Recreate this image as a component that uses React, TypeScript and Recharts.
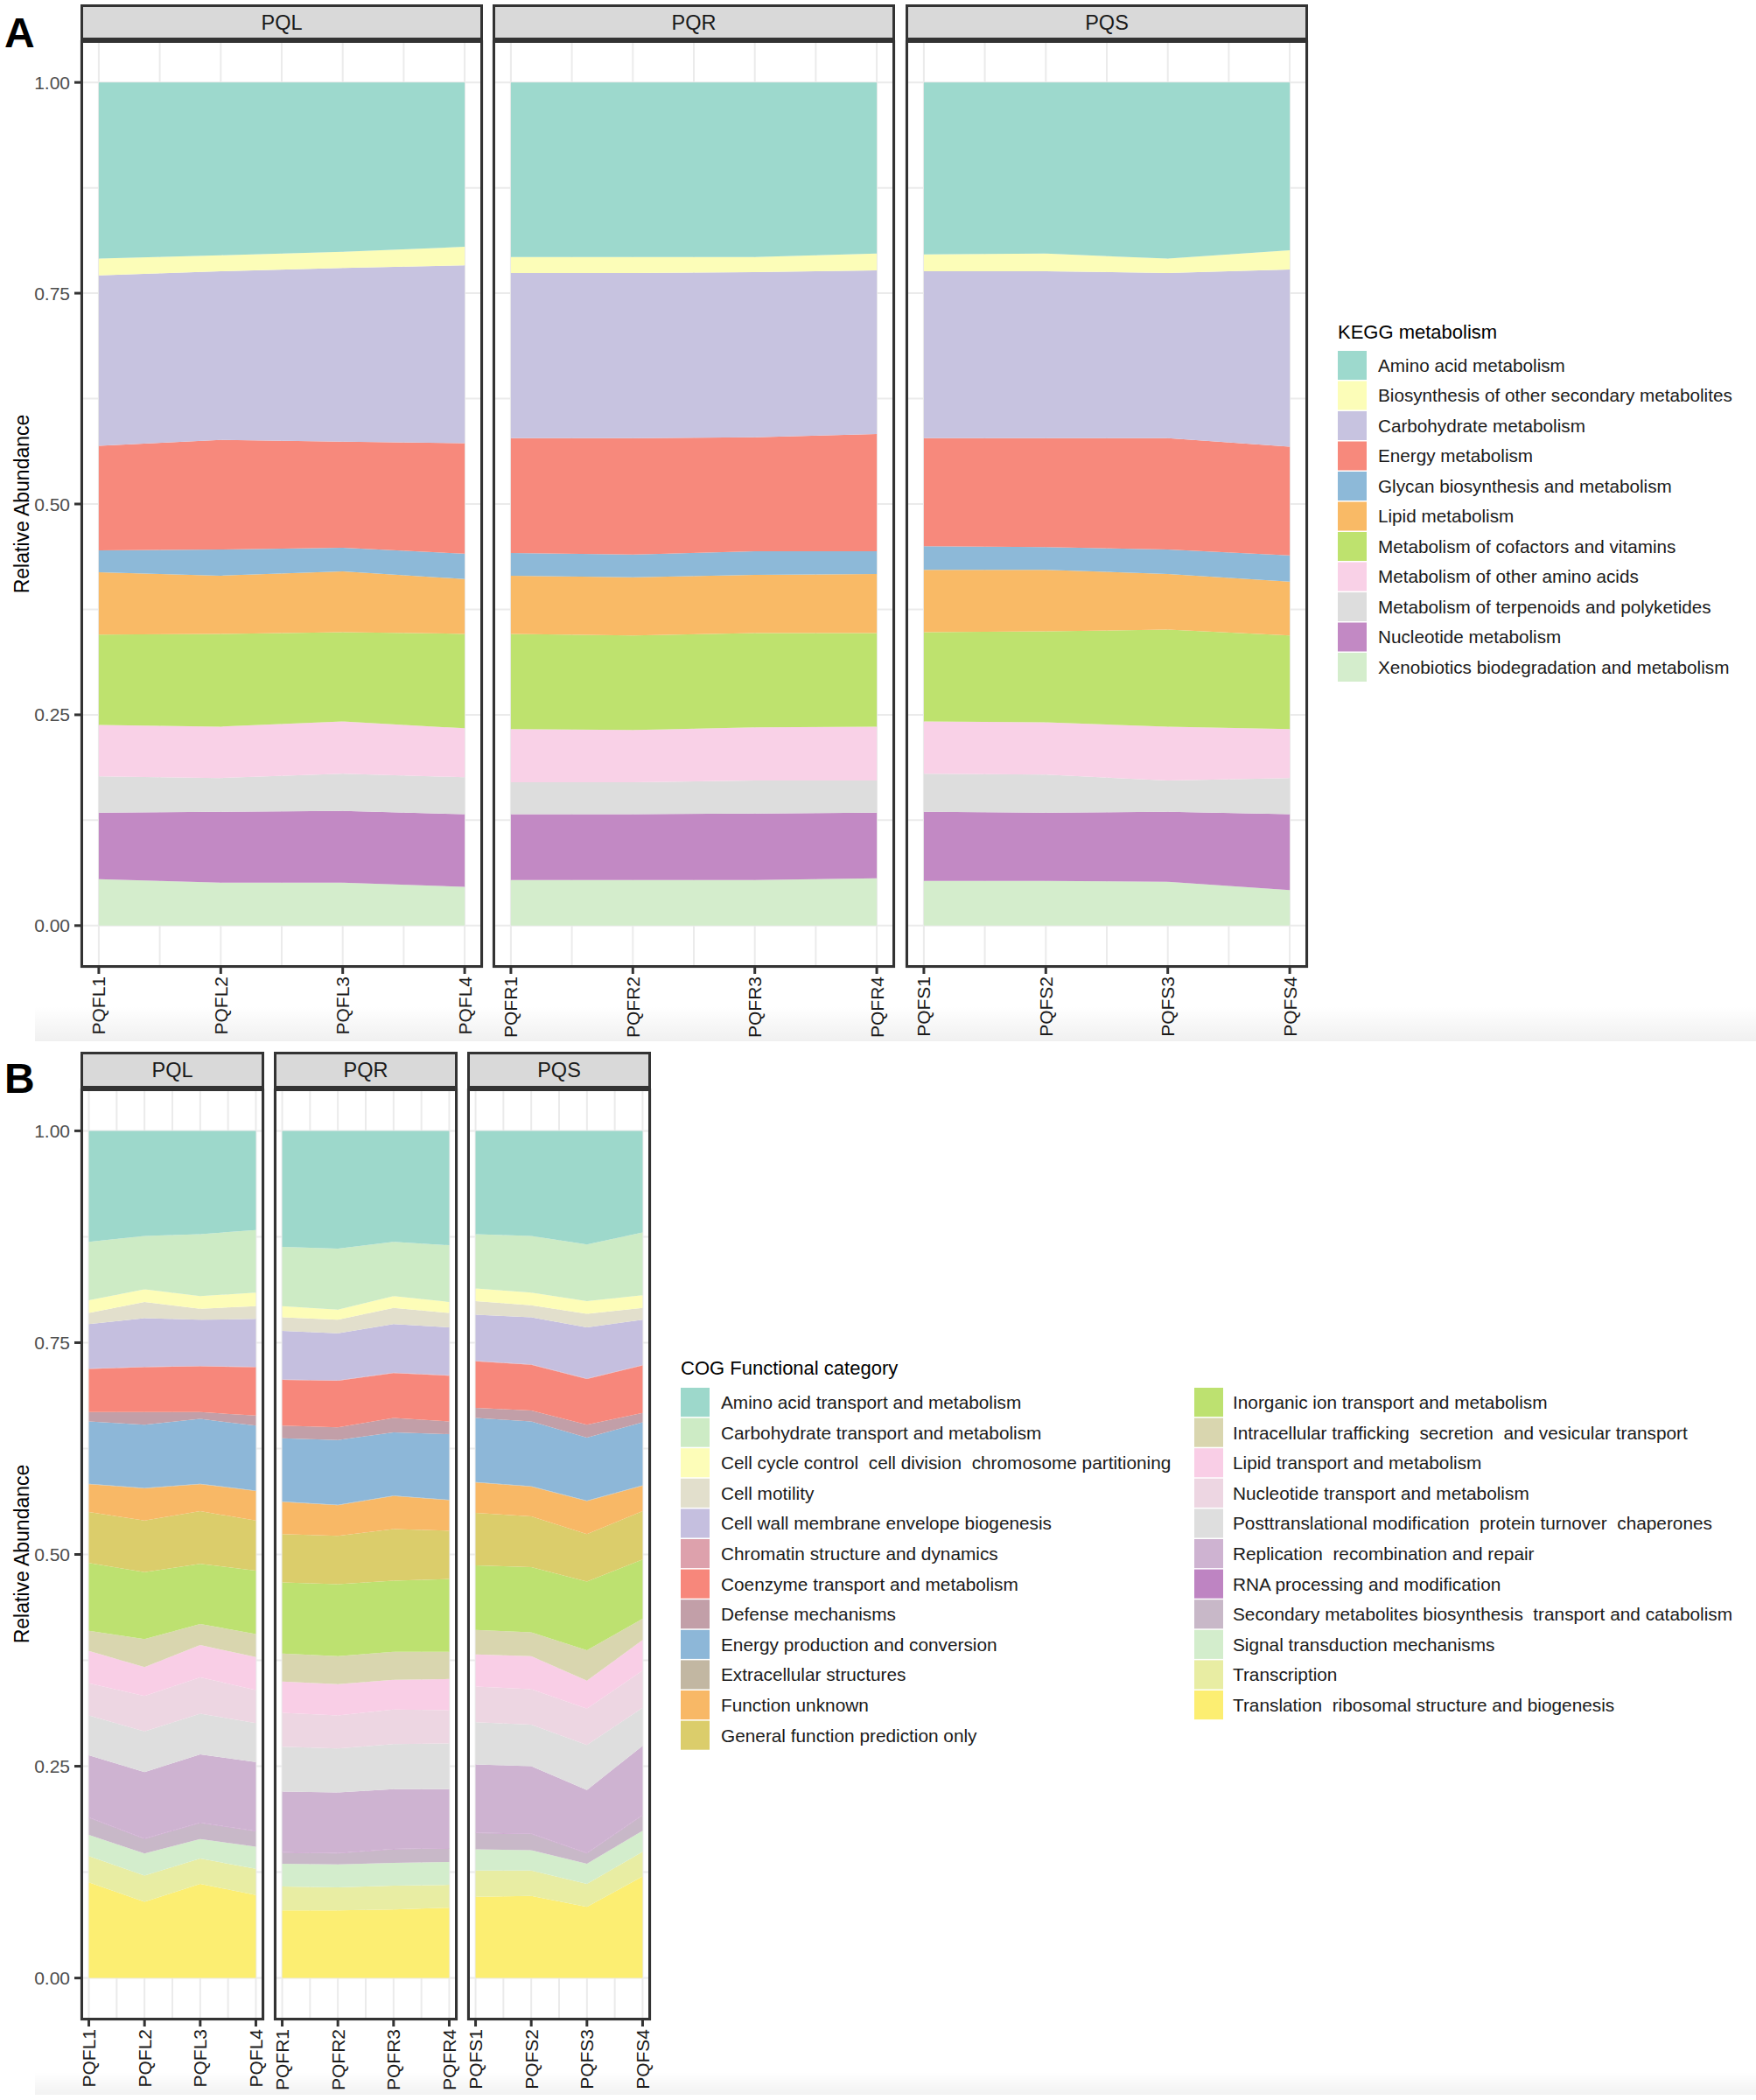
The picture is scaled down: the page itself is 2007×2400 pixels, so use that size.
import { AreaChart, Area, XAxis, YAxis, CartesianGrid } from "recharts";

const FONT = '"Liberation Sans", Arial, Helvetica, sans-serif';

// ---- facets and samples ----
const facetNames = ["PQL", "PQR", "PQS"];
const samplesL = ["PQFL1", "PQFL2", "PQFL3", "PQFL4"];
const samplesR = ["PQFR1", "PQFR2", "PQFR3", "PQFR4"];
const samplesS = ["PQFS1", "PQFS2", "PQFS3", "PQFS4"];

const yTicks = [0, 0.125, 0.25, 0.375, 0.5, 0.625, 0.75, 0.875, 1];
const xTicks = [1, 1.5, 2, 2.5, 3, 3.5, 4];

// ---- panel A: KEGG metabolism ----
const keggCategories = [
  "Amino acid metabolism",
  "Biosynthesis of other secondary metabolites",
  "Carbohydrate metabolism",
  "Energy metabolism",
  "Glycan biosynthesis and metabolism",
  "Lipid metabolism",
  "Metabolism of cofactors and vitamins",
  "Metabolism of other amino acids",
  "Metabolism of terpenoids and polyketides",
  "Nucleotide metabolism",
  "Xenobiotics biodegradation and metabolism",
];
const keggColors = [
  "#9DD9CD", "#FCFDB8", "#C7C3E0", "#F7897C", "#8DB9D8", "#F9BA66",
  "#BEE26E", "#F9D1E7", "#DDDDDD", "#C289C4", "#D4EDCC",
];
// rows follow keggCategories, columns are the 4 samples
const keggPQL = [
  [0.209, 0.205, 0.201, 0.195],
  [0.020, 0.019, 0.019, 0.022],
  [0.202, 0.200, 0.206, 0.211],
  [0.124, 0.130, 0.126, 0.131],
  [0.026, 0.031, 0.028, 0.030],
  [0.074, 0.069, 0.072, 0.065],
  [0.107, 0.110, 0.106, 0.112],
  [0.061, 0.061, 0.062, 0.058],
  [0.043, 0.040, 0.044, 0.044],
  [0.079, 0.084, 0.085, 0.086],
  [0.055, 0.051, 0.051, 0.046],
];
const keggPQR = [
  [0.207, 0.207, 0.207, 0.203],
  [0.019, 0.019, 0.018, 0.020],
  [0.196, 0.196, 0.196, 0.194],
  [0.136, 0.138, 0.135, 0.139],
  [0.027, 0.027, 0.028, 0.027],
  [0.069, 0.069, 0.069, 0.070],
  [0.113, 0.112, 0.112, 0.111],
  [0.063, 0.062, 0.063, 0.064],
  [0.038, 0.038, 0.039, 0.038],
  [0.078, 0.078, 0.079, 0.078],
  [0.054, 0.054, 0.054, 0.056],
];
const keggPQS = [
  [0.204, 0.203, 0.209, 0.199],
  [0.020, 0.021, 0.017, 0.023],
  [0.198, 0.198, 0.196, 0.210],
  [0.128, 0.129, 0.132, 0.129],
  [0.028, 0.027, 0.029, 0.031],
  [0.074, 0.073, 0.066, 0.064],
  [0.106, 0.108, 0.115, 0.111],
  [0.062, 0.062, 0.064, 0.058],
  [0.045, 0.045, 0.037, 0.043],
  [0.082, 0.081, 0.083, 0.090],
  [0.053, 0.053, 0.052, 0.042],
];

// ---- panel B: COG functional category ----
const cogCategories = [
  "Amino acid transport and metabolism",
  "Carbohydrate transport and metabolism",
  "Cell cycle control  cell division  chromosome partitioning",
  "Cell motility",
  "Cell wall membrane envelope biogenesis",
  "Chromatin structure and dynamics",
  "Coenzyme transport and metabolism",
  "Defense mechanisms",
  "Energy production and conversion",
  "Extracellular structures",
  "Function unknown",
  "General function prediction only",
  "Inorganic ion transport and metabolism",
  "Intracellular trafficking  secretion  and vesicular transport",
  "Lipid transport and metabolism",
  "Nucleotide transport and metabolism",
  "Posttranslational modification  protein turnover  chaperones",
  "Replication  recombination and repair",
  "RNA processing and modification",
  "Secondary metabolites biosynthesis  transport and catabolism",
  "Signal transduction mechanisms",
  "Transcription",
  "Translation  ribosomal structure and biogenesis",
];
const cogColors = [
  "#9DD8CB", "#CDEBC5", "#FDFDB8", "#E2DFCC", "#C5BFDF", "#DDA1AC",
  "#F7877B", "#C29FA8", "#8DB7D8", "#C2B7A2", "#F8B866", "#DBCD6B",
  "#BDE170", "#D9D6AF", "#F9CEE6", "#EDD6E2", "#DEDEDE", "#CEB3D1",
  "#BE84C2", "#C8B8C8", "#D3EDCC", "#E8EDA3", "#FCEE72",
];
const cogPQL = [
  [0.131, 0.124, 0.122, 0.117],
  [0.069, 0.063, 0.073, 0.074],
  [0.015, 0.015, 0.015, 0.016],
  [0.013, 0.019, 0.013, 0.015],
  [0.0525, 0.0575, 0.0545, 0.0565],
  [0.0005, 0.0005, 0.0005, 0.0005],
  [0.051, 0.053, 0.054, 0.057],
  [0.011, 0.015, 0.008, 0.012],
  [0.0735, 0.0745, 0.0765, 0.0765],
  [0.0005, 0.0005, 0.0005, 0.0005],
  [0.033, 0.038, 0.032, 0.035],
  [0.060, 0.061, 0.062, 0.059],
  [0.080, 0.079, 0.071, 0.075],
  [0.024, 0.033, 0.025, 0.027],
  [0.038, 0.034, 0.038, 0.039],
  [0.038, 0.042, 0.043, 0.039],
  [0.047, 0.048, 0.048, 0.046],
  [0.0735, 0.0785, 0.0805, 0.0815],
  [0.0005, 0.0005, 0.0005, 0.0005],
  [0.020, 0.017, 0.019, 0.018],
  [0.025, 0.026, 0.023, 0.026],
  [0.031, 0.031, 0.030, 0.031],
  [0.113, 0.090, 0.111, 0.098],
];
const cogPQR = [
  [0.137, 0.139, 0.131, 0.135],
  [0.070, 0.072, 0.064, 0.067],
  [0.013, 0.012, 0.014, 0.013],
  [0.016, 0.016, 0.019, 0.017],
  [0.0575, 0.0555, 0.0575, 0.0565],
  [0.0005, 0.0005, 0.0005, 0.0005],
  [0.054, 0.055, 0.053, 0.054],
  [0.015, 0.015, 0.017, 0.015],
  [0.0745, 0.0765, 0.0745, 0.0775],
  [0.0005, 0.0005, 0.0005, 0.0005],
  [0.038, 0.036, 0.039, 0.036],
  [0.057, 0.057, 0.061, 0.057],
  [0.084, 0.085, 0.084, 0.086],
  [0.033, 0.033, 0.033, 0.032],
  [0.037, 0.037, 0.035, 0.037],
  [0.040, 0.039, 0.041, 0.039],
  [0.053, 0.052, 0.053, 0.054],
  [0.0715, 0.0715, 0.0705, 0.0695],
  [0.0005, 0.0005, 0.0005, 0.0005],
  [0.013, 0.013, 0.016, 0.016],
  [0.027, 0.027, 0.027, 0.027],
  [0.028, 0.027, 0.028, 0.027],
  [0.080, 0.080, 0.081, 0.083],
];
const cogPQS = [
  [0.122, 0.124, 0.134, 0.120],
  [0.064, 0.067, 0.067, 0.074],
  [0.015, 0.015, 0.015, 0.015],
  [0.016, 0.014, 0.016, 0.014],
  [0.0545, 0.0555, 0.0605, 0.0535],
  [0.0005, 0.0005, 0.0005, 0.0005],
  [0.055, 0.054, 0.054, 0.056],
  [0.012, 0.013, 0.015, 0.011],
  [0.0755, 0.0765, 0.0745, 0.0745],
  [0.0005, 0.0005, 0.0005, 0.0005],
  [0.036, 0.035, 0.039, 0.030],
  [0.062, 0.060, 0.056, 0.057],
  [0.076, 0.077, 0.081, 0.070],
  [0.029, 0.028, 0.036, 0.025],
  [0.038, 0.039, 0.033, 0.036],
  [0.042, 0.042, 0.043, 0.044],
  [0.050, 0.049, 0.053, 0.045],
  [0.0805, 0.0795, 0.0745, 0.0815],
  [0.0005, 0.0005, 0.0005, 0.0005],
  [0.019, 0.019, 0.012, 0.018],
  [0.025, 0.024, 0.024, 0.025],
  [0.031, 0.030, 0.027, 0.029],
  [0.096, 0.097, 0.084, 0.120],
];

// layout of the two figure parts
const partA = { stripTop: 5, top: 46, height: 1060, width: 460, lefts: [92, 563, 1035] };
const partB = { stripTop: 1202, top: 1244, height: 1065, width: 210, lefts: [92, 313, 534] };
const Y_AXIS_W = 92;
const X_AXIS_H = 86;
const SIDE = 12; // extra room so rotated labels at the panel edges are not clipped

function buildRows(matrix: number[][], samples: string[]) {
  return samples.map((s, j) => {
    const row: Record<string, number | string> = { x: j + 1, sample: s };
    matrix.forEach((r, i) => {
      row["c" + i] = r[j];
    });
    return row;
  });
}

function XTick(props: any) {
  const { x, y, payload, labels } = props;
  const v = payload.value;
  if (!Number.isInteger(v)) return <g />;
  return (
    <g>
      <line x1={x} x2={x} y1={y} y2={y + 7} stroke="#333" strokeWidth={3} />
      <text
        transform={`translate(${x},${y + 10}) rotate(-90)`}
        textAnchor="end"
        dy="0.36em"
        fontSize={21}
        fontFamily={FONT}
        fill="#1a1a1a"
      >
        {labels[v - 1]}
      </text>
    </g>
  );
}

function YTick(props: any) {
  const { x, y, payload } = props;
  const v = payload.value;
  if (!Number.isInteger(v * 4)) return <g />;
  return (
    <g>
      <line x1={x - 7} x2={x} y1={y} y2={y} stroke="#333" strokeWidth={3} />
      <text x={x - 12} y={y} dy="0.36em" textAnchor="end" fontSize={21} fontFamily={FONT} fill="#4d4d4d">
        {v.toFixed(2)}
      </text>
    </g>
  );
}

function Facet({ left, top, width, height, matrix, samples, colors, showY }: any) {
  const rows = buildRows(matrix, samples);
  const yW = showY ? Y_AXIS_W : 0;
  const padL = showY ? 0 : SIDE;
  const order = colors.map((_: string, i: number) => i).reverse();
  return (
    <div style={{ position: "absolute", left: left - yW - padL, top }}>
      <AreaChart
        width={width + yW + padL + SIDE}
        height={height + X_AXIS_H}
        data={rows}
        margin={{ top: 0, right: SIDE, bottom: 0, left: padL }}
      >
        <CartesianGrid stroke="#ebebeb" strokeWidth={2} />
        <XAxis
          dataKey="x"
          type="number"
          domain={[0.85, 4.15]}
          ticks={xTicks}
          interval={0}
          allowDataOverflow
          height={X_AXIS_H}
          tickSize={0}
          tickMargin={0}
          axisLine={false}
          tickLine={false}
          tick={(p: any) => <XTick {...p} labels={samples} />}
        />
        <YAxis
          type="number"
          domain={[-0.05, 1.05]}
          ticks={yTicks}
          interval={0}
          allowDataOverflow
          width={Y_AXIS_W}
          hide={!showY}
          tickSize={0}
          tickMargin={0}
          axisLine={false}
          tickLine={false}
          tick={(p: any) => <YTick {...p} />}
        />
        {order.map((i: number) => (
          <Area
            key={i}
            type="linear"
            dataKey={"c" + i}
            stackId="s"
            stroke="none"
            fill={colors[i]}
            fillOpacity={1}
            dot={false}
            activeDot={false}
            isAnimationActive={false}
          />
        ))}
      </AreaChart>
    </div>
  );
}

function Frames({ part }: any) {
  return (
    <g>
      {facetNames.map((name, i) => {
        const l = part.lefts[i];
        const stripH = part.top - part.stripTop;
        return (
          <g key={name}>
            <rect
              x={l + 1.5}
              y={part.stripTop + 1.5}
              width={part.width - 3}
              height={stripH - 3}
              fill="#d9d9d9"
              stroke="#333"
              strokeWidth={3}
            />
            <text
              x={l + part.width / 2}
              y={part.stripTop + stripH / 2}
              dy="0.36em"
              textAnchor="middle"
              fontSize={23.5}
              fill="#1a1a1a"
            >
              {name}
            </text>
            <rect
              x={l + 1.5}
              y={part.top + 1.5}
              width={part.width - 3}
              height={part.height - 3}
              fill="none"
              stroke="#333"
              strokeWidth={3}
            />
          </g>
        );
      })}
    </g>
  );
}

function LegendBlock({ title, x, titleY, top, pitch, perColumn, colX, textX, categories, colors, fontSize }: any) {
  return (
    <g>
      <text x={x} y={titleY} fontSize={22} fill="#000">
        {title}
      </text>
      {categories.map((c: string, i: number) => {
        const col = Math.floor(i / perColumn);
        const r = i % perColumn;
        const y = top + r * pitch;
        return (
          <g key={c}>
            <rect x={colX[col]} y={y} width={33} height={pitch - 1.5} fill={colors[i]} />
            <text
              x={textX[col]}
              y={y + (pitch - 1.5) / 2}
              dy="0.36em"
              fontSize={fontSize}
              fill="#1a1a1a"
              style={{ whiteSpace: "pre" }}
            >
              {c}
            </text>
          </g>
        );
      })}
    </g>
  );
}

export default function App() {
  const sampleSets = [samplesL, samplesR, samplesS];
  const keggSets = [keggPQL, keggPQR, keggPQS];
  const cogSets = [cogPQL, cogPQR, cogPQS];
  return (
    <div
      style={{
        position: "absolute",
        left: 0,
        top: 0,
        width: 2007,
        height: 2400,
        background: "#fff",
        overflow: "hidden",
        fontFamily: FONT,
      }}
    >
      {/* faint page shadows from the composed figure */}
      <div
        style={{
          position: "absolute",
          left: 40,
          top: 1150,
          width: 1967,
          height: 40,
          background: "linear-gradient(to bottom, rgba(0,0,0,0), rgba(0,0,0,0.06))",
        }}
      />
      <div
        style={{
          position: "absolute",
          left: 40,
          top: 2368,
          width: 1967,
          height: 26,
          background: "linear-gradient(to bottom, rgba(0,0,0,0), rgba(0,0,0,0.05))",
        }}
      />

      {facetNames.map((f, i) => (
        <Facet
          key={"a" + f}
          left={partA.lefts[i]}
          top={partA.top}
          width={partA.width}
          height={partA.height}
          matrix={keggSets[i]}
          samples={sampleSets[i]}
          colors={keggColors}
          showY={i === 0}
        />
      ))}
      {facetNames.map((f, i) => (
        <Facet
          key={"b" + f}
          left={partB.lefts[i]}
          top={partB.top}
          width={partB.width}
          height={partB.height}
          matrix={cogSets[i]}
          samples={sampleSets[i]}
          colors={cogColors}
          showY={i === 0}
        />
      ))}

      <svg
        width={2007}
        height={2400}
        style={{ position: "absolute", left: 0, top: 0, pointerEvents: "none" }}
        fontFamily={FONT}
      >
        <Frames part={partA} />
        <Frames part={partB} />

        <text x={5} y={54} fontSize={48} fontWeight="bold" fill="#000">
          A
        </text>
        <text x={5} y={1249} fontSize={48} fontWeight="bold" fill="#000">
          B
        </text>

        <text transform="translate(33,576) rotate(-90)" textAnchor="middle" fontSize={23} fill="#000">
          Relative Abundance
        </text>
        <text transform="translate(33,1776) rotate(-90)" textAnchor="middle" fontSize={23} fill="#000">
          Relative Abundance
        </text>

        <LegendBlock
          title="KEGG metabolism"
          x={1529}
          titleY={387}
          top={401}
          pitch={34.5}
          perColumn={11}
          colX={[1529]}
          textX={[1575]}
          categories={keggCategories}
          colors={keggColors}
          fontSize={20.7}
        />
        <LegendBlock
          title="COG Functional category"
          x={778}
          titleY={1571}
          top={1586}
          pitch={34.6}
          perColumn={12}
          colX={[778, 1365]}
          textX={[824, 1409]}
          categories={cogCategories}
          colors={cogColors}
          fontSize={20.8}
        />
      </svg>
    </div>
  );
}
